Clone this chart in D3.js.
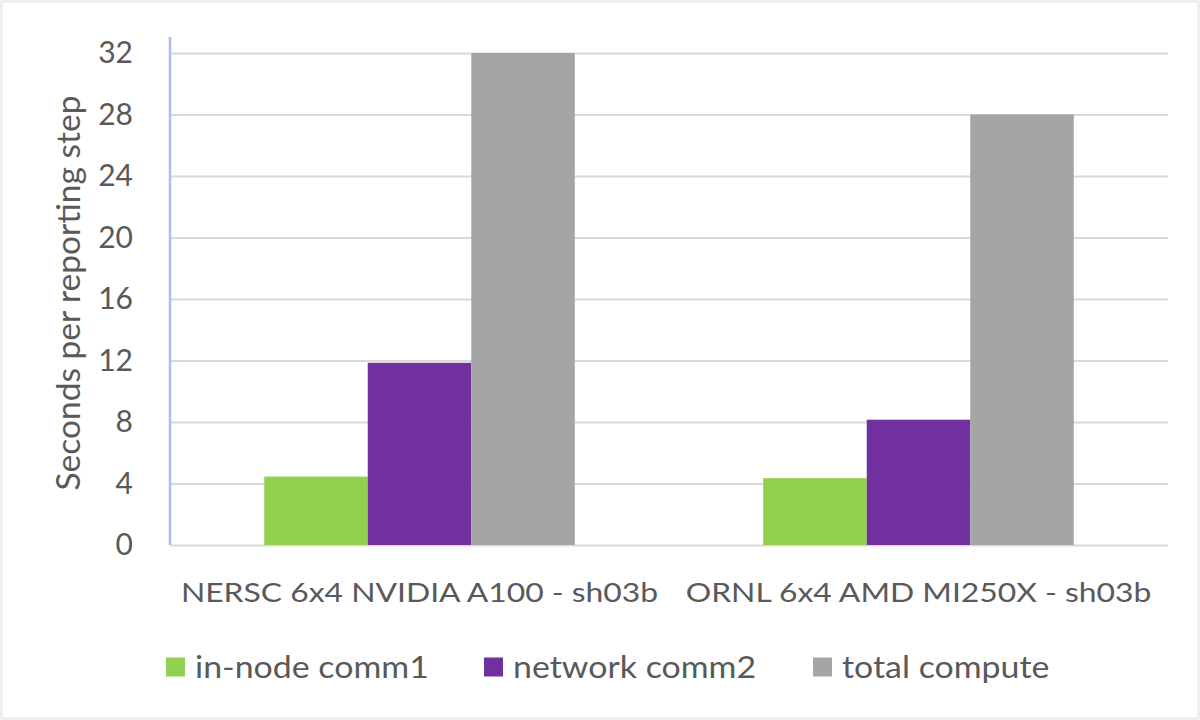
<!DOCTYPE html>
<html>
<head>
<meta charset="utf-8">
<script src="https://cdn.jsdelivr.net/npm/d3@7"></script>
<style>
  html, body { margin: 0; padding: 0; background: #fff; }
  svg { display: block; }
  text { font-family: Lato, "Open Sans", sans-serif; fill: #595959; }
</style>
</head>
<body>
<svg id="chart" width="1200" height="720"></svg>
<script>
const categories = ["NERSC 6x4 NVIDIA A100 - sh03b", "ORNL 6x4 AMD MI250X - sh03b"];
const seriesNames = ["in-node comm1", "network comm2", "total compute"];
const inNodeComm1 = [4.45, 4.35];
const networkComm2 = [11.85, 8.15];
const totalCompute = [32.0, 28.0];
const yTicks = [0, 4, 8, 12, 16, 20, 24, 28, 32];
const yTitle = "Seconds per reporting step";
const colors = ["#92d050", "#7030a0", "#a5a5a5"];

const seriesValues = [inNodeComm1, networkComm2, totalCompute];
const data = categories.map((c, i) => ({
  category: c,
  values: seriesNames.map((s, j) => ({ series: s, value: seriesValues[j][i] }))
}));

const svg = d3.select("#chart");
const W = 1200, H = 720;

// faint outer frame
svg.append("rect").attr("x", 1.5).attr("y", 1.5).attr("width", W - 3).attr("height", H - 3)
  .attr("fill", "#fff").attr("stroke", "#efefef").attr("stroke-width", 3);

const plot = { left: 170, right: 1168, top: 53, bottom: 545 };

const y = d3.scaleLinear().domain([0, 32]).range([plot.bottom, plot.top]);
const x0 = d3.scaleBand().domain(categories).range([plot.left, plot.right]).paddingInner(0).paddingOuter(0);
const x1 = d3.scaleBand().domain(seriesNames).range([0, x0.bandwidth()]).paddingInner(0).paddingOuter(0.91);
const color = d3.scaleOrdinal().domain(seriesNames).range(colors);

// gridlines
const grid = svg.append("g").attr("transform", `translate(${plot.left},0)`)
  .call(d3.axisLeft(y).tickValues(yTicks).tickSize(-(plot.right - plot.left)).tickFormat(""));
grid.select(".domain").remove();
grid.selectAll(".tick line").attr("stroke", "#d9d9d9").attr("stroke-width", 2);

// y tick labels
const yAxis = svg.append("g").attr("transform", `translate(${plot.left},0)`)
  .call(d3.axisLeft(y).tickValues(yTicks).tickSize(0).tickPadding(37));
yAxis.select(".domain").remove();
yAxis.selectAll("text").style("font-size", "30px").attr("fill", "#595959").attr("font-family", "Lato");

// bars
const groups = svg.append("g").selectAll("g").data(data).join("g")
  .attr("transform", d => `translate(${x0(d.category)},0)`);
groups.selectAll("rect").data(d => d.values).join("rect")
  .attr("x", d => x1(d.series))
  .attr("width", x1.bandwidth())
  .attr("y", d => y(d.value))
  .attr("height", d => y(0) - y(d.value))
  .attr("fill", d => color(d.series));

// vertical axis line (blue)
svg.append("line").attr("x1", plot.left).attr("x2", plot.left)
  .attr("y1", plot.top - 16).attr("y2", plot.bottom)
  .attr("stroke", "#a9c0ea").attr("stroke-width", 2.5);

// category labels (slightly wide face, as in the reference)
const catStretch = 1.18;
const xAxis = svg.append("g").attr("transform", `translate(0,${plot.bottom})`)
  .call(d3.axisBottom(x0).tickSize(0).tickPadding(38));
xAxis.select(".domain").remove();
xAxis.selectAll("text").style("font-size", "27px").attr("fill", "#595959").attr("font-family", "Lato")
  .attr("transform", `scale(${catStretch},1)`);

// y title
svg.append("text")
  .attr("transform", `translate(80,293) rotate(-90)`)
  .attr("text-anchor", "middle")
  .style("font-size", "33.5px")
  .text(yTitle);

// legend
const legStretch = 1.13;
const legendX = [166, 484, 813];
const legend = svg.append("g").selectAll("g").data(seriesNames).join("g")
  .attr("transform", (d, i) => `translate(${legendX[i]},667)`);
legend.append("rect").attr("x", 0).attr("y", -9.5).attr("width", 19).attr("height", 19)
  .attr("fill", d => color(d));
legend.append("text").attr("x", 29 / legStretch).attr("y", 0).attr("dy", "0.35em")
  .attr("transform", `scale(${legStretch},1)`)
  .style("font-size", "30px").text(d => d);
</script>
</body>
</html>
